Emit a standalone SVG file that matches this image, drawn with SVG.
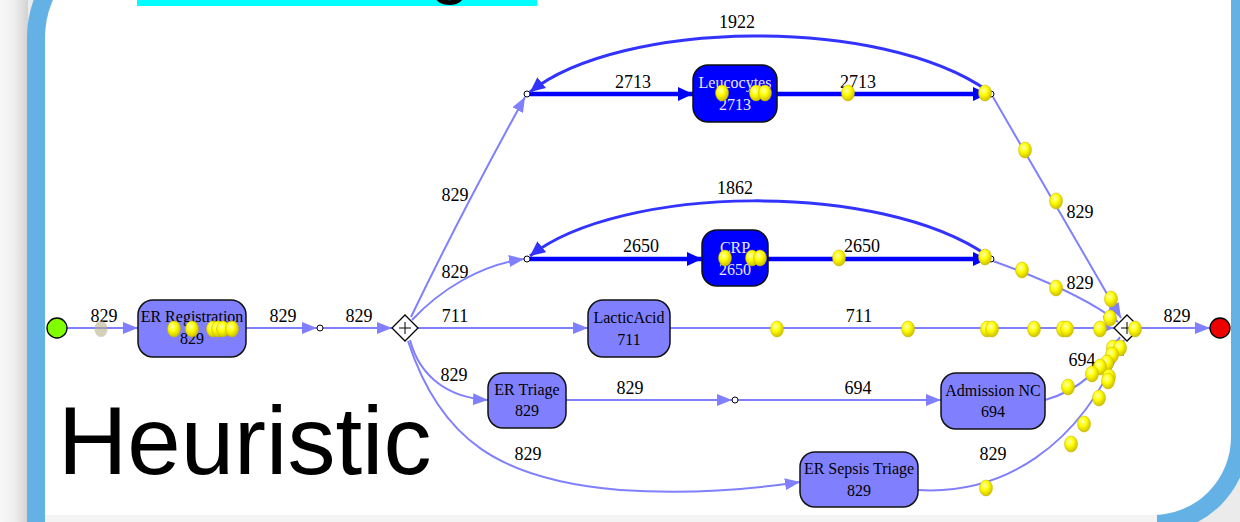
<svg xmlns="http://www.w3.org/2000/svg" width="1240" height="522" viewBox="0 0 1240 522">
<defs>
<linearGradient id="lg" x1="0" y1="0" x2="1" y2="0">
<stop offset="0" stop-color="#f8f8f8"/><stop offset="0.5" stop-color="#efefef"/><stop offset="1" stop-color="#d2d2d2"/>
</linearGradient>
<radialGradient id="tg" cx="0.4" cy="0.35" r="0.65">
<stop offset="0" stop-color="#ffffc0"/><stop offset="0.45" stop-color="#ffff00"/><stop offset="1" stop-color="#cfc000"/>
</radialGradient>
<marker id="al" markerUnits="userSpaceOnUse" markerWidth="16" markerHeight="12" refX="15" refY="6" orient="auto">
<path d="M0,0 L15,6 L0,12 Z" fill="#8080ff"/>
</marker>
<marker id="ab" markerUnits="userSpaceOnUse" markerWidth="16" markerHeight="14" refX="15" refY="7" orient="auto">
<path d="M0,0 L15,7 L0,14 Z" fill="#0000ff"/>
</marker>
<marker id="am" markerUnits="userSpaceOnUse" markerWidth="16" markerHeight="14" refX="15" refY="7" orient="auto">
<path d="M0,0 L15,7 L0,14 Z" fill="#3333ff"/>
</marker>
</defs>
<style>
.act{fill:#8080ff;stroke:#111;stroke-width:1.5}
.actb{fill:#0000ff;stroke:#111;stroke-width:1.5}
.nt{font-family:"Liberation Serif","Times New Roman",serif;font-size:16px;text-anchor:middle;fill:#000}
.ntw{font-family:"Liberation Serif","Times New Roman",serif;font-size:16px;text-anchor:middle;fill:#e8e8ff}
.lb{font-family:"Liberation Serif","Times New Roman",serif;font-size:18px;text-anchor:middle;fill:#000}
.e{fill:none;stroke:#8080ff;stroke-width:2;marker-end:url(#al)}
.eb{fill:none;stroke:#0000ff;stroke-width:4.5;marker-end:url(#ab)}
.el{fill:none;stroke:#3333ff;stroke-width:3;marker-end:url(#am)}
.sc{fill:#fff;stroke:#000;stroke-width:1}
.gw{fill:#fff;stroke:#000;stroke-width:1.3}
.tk{fill:url(#tg);stroke:#c8b400;stroke-width:0.5}
</style>
<rect x="0" y="0" width="1240" height="522" fill="#ebebeb"/>
<rect x="0" y="0" width="28" height="522" fill="url(#lg)"/>
<path d="M36 560 V38 A104 104 0 0 1 140 -66 H1240 V437 A87 87 0 0 1 1153 524 H36 Z" fill="#ffffff"/>
<path d="M36 560 V38 A104 104 0 0 1 140 -66 H1240 V437 A87 87 0 0 1 1153 524 H36 Z" fill="none" stroke="#63b1e5" stroke-width="18"/>
<rect x="45" y="515" width="1112" height="7" fill="#f3f3f3"/>
<rect x="137" y="0" width="400" height="6" fill="#00ffff"/>
<text x="430" y="-10" font-family="Liberation Sans, Arial, sans-serif" font-size="72" fill="#000">g</text>
<text x="58" y="474" font-family="Liberation Sans, Arial, sans-serif" font-size="96" fill="#000">Heuristic</text>

<g id="connectors">
<path class="e" d="M67 328 H138"/>
<path class="e" d="M246 328 H317"/>
<path class="e" d="M323 328 H392"/>
<path class="e" d="M411 317 Q460 215 525 97"/>
<path class="e" d="M412 320 C440 290 480 265 524 259"/>
<path class="e" d="M418 328 H588"/>
<path class="e" d="M410 340 C420 378 450 398 488 400"/>
<path class="e" d="M408 341 C440 440 500 480 620 490 C700 495 760 488 800 482"/>
<path class="eb" d="M530 94 H693"/>
<path class="eb" d="M777 94 H988"/>
<path class="el" d="M988 91 C880 15 620 20 530 92"/>
<path class="eb" d="M530 259 H702"/>
<path class="eb" d="M768 259 H988"/>
<path class="el" d="M988 256 C880 180 620 185 530 256"/>
<path class="e" d="M993 97 L1121 318"/>
<path class="e" d="M993 261 C1040 278 1090 300 1118 322"/>
<path class="e" d="M670 328 H1114"/>
<path class="e" d="M566 400 H732"/>
<path class="e" d="M738 400 H941"/>
<path class="e" d="M1045 400 C1080 390 1100 370 1120 337"/>
<path class="e" d="M918 490 C1000 495 1080 450 1124 340"/>
<path class="e" d="M1140 328 H1210"/>
<text class="lb" x="104" y="322">829</text>
<text class="lb" x="283" y="322">829</text>
<text class="lb" x="359" y="322">829</text>
<text class="lb" x="455" y="322">711</text>
<text class="lb" x="859" y="322">711</text>
<text class="lb" x="1177" y="322">829</text>
<text class="lb" x="455" y="201">829</text>
<text class="lb" x="455" y="278">829</text>
<text class="lb" x="454" y="381">829</text>
<text class="lb" x="528" y="460">829</text>
<text class="lb" x="633" y="88">2713</text>
<text class="lb" x="858" y="88">2713</text>
<text class="lb" x="737" y="28">1922</text>
<text class="lb" x="641" y="252">2650</text>
<text class="lb" x="862" y="252">2650</text>
<text class="lb" x="735" y="194">1862</text>
<text class="lb" x="1080" y="218">829</text>
<text class="lb" x="1080" y="289">829</text>
<text class="lb" x="630" y="394">829</text>
<text class="lb" x="858" y="394">694</text>
<text class="lb" x="1082" y="366">694</text>
<text class="lb" x="993" y="460">829</text>
</g>

<g id="start"><circle cx="57" cy="328" r="10" fill="#80ff00" stroke="#000" stroke-width="1.3"/></g>
<g id="end"><circle cx="1220" cy="328" r="10" fill="#ee0000" stroke="#000" stroke-width="1.3"/></g>
<g id="split"><path class="gw" d="M405 315 L418 328 L405 341 L392 328 Z"/><path d="M399 328 H411 M405 322 V334" stroke="#000" stroke-width="1"/></g>
<g id="join"><path class="gw" d="M1127 315 L1140 328 L1127 341 L1114 328 Z"/><path d="M1121 328 H1133 M1127 322 V334" stroke="#000" stroke-width="1"/></g>
<g id="c1"><circle class="sc" cx="320" cy="328" r="3"/></g>
<g id="c2"><circle class="sc" cx="527" cy="94" r="3"/></g>
<g id="c3"><circle class="sc" cx="991" cy="94" r="3"/></g>
<g id="c4"><circle class="sc" cx="527" cy="259" r="3"/></g>
<g id="c5"><circle class="sc" cx="991" cy="259" r="3"/></g>
<g id="c6"><circle class="sc" cx="735" cy="400" r="3"/></g>

<g id="er-registration"><rect class="act" x="138" y="300" width="108" height="57" rx="15"/><text class="nt" x="192" y="322">ER Registration</text><text class="nt" x="192" y="344">829</text></g>
<g id="leucocytes"><rect class="actb" x="693" y="65" width="84" height="57" rx="15"/><text class="ntw" x="735" y="88">Leucocytes</text><text class="ntw" x="735" y="110">2713</text></g>
<g id="crp"><rect class="actb" x="702" y="230" width="66" height="56" rx="15"/><text class="ntw" x="735" y="253">CRP</text><text class="ntw" x="735" y="275">2650</text></g>
<g id="lacticacid"><rect class="act" x="588" y="300" width="82" height="57" rx="15"/><text class="nt" x="629" y="323">LacticAcid</text><text class="nt" x="629" y="345">711</text></g>
<g id="er-triage"><rect class="act" x="488" y="373" width="78" height="55" rx="15"/><text class="nt" x="527" y="395">ER Triage</text><text class="nt" x="527" y="416">829</text></g>
<g id="admission-nc"><rect class="act" x="941" y="373" width="104" height="56" rx="15"/><text class="nt" x="993" y="396">Admission NC</text><text class="nt" x="993" y="417">694</text></g>
<g id="er-sepsis-triage"><rect class="act" x="800" y="452" width="118" height="55" rx="15"/><text class="nt" x="859" y="474">ER Sepsis Triage</text><text class="nt" x="859" y="496">829</text></g>

<g id="tokens">
<ellipse cx="101" cy="329" rx="6.5" ry="8" fill="#b8b08a" opacity="0.6"/>
<ellipse class="tk" cx="174" cy="329" rx="6.5" ry="8"/>
<ellipse class="tk" cx="192" cy="329" rx="6.5" ry="8"/>
<ellipse class="tk" cx="213" cy="329" rx="6.5" ry="8"/>
<ellipse class="tk" cx="218" cy="329" rx="6.5" ry="8"/>
<ellipse class="tk" cx="223" cy="329" rx="6.5" ry="8"/>
<ellipse class="tk" cx="232" cy="329" rx="6.5" ry="8"/>
<ellipse class="tk" cx="722" cy="93" rx="6.5" ry="8"/>
<ellipse class="tk" cx="756" cy="93" rx="6.5" ry="8"/>
<ellipse class="tk" cx="765" cy="93" rx="6.5" ry="8"/>
<ellipse class="tk" cx="848" cy="93" rx="6.5" ry="8"/>
<ellipse class="tk" cx="985" cy="93" rx="6.5" ry="8"/>
<ellipse class="tk" cx="725" cy="258" rx="6.5" ry="8"/>
<ellipse class="tk" cx="752" cy="258" rx="6.5" ry="8"/>
<ellipse class="tk" cx="760" cy="258" rx="6.5" ry="8"/>
<ellipse class="tk" cx="839" cy="258" rx="6.5" ry="8"/>
<ellipse class="tk" cx="985" cy="257" rx="6.5" ry="8"/>
<ellipse class="tk" cx="1022" cy="270" rx="6.5" ry="8"/>
<ellipse class="tk" cx="1056" cy="288" rx="6.5" ry="8"/>
<ellipse class="tk" cx="1025" cy="150" rx="6.5" ry="8"/>
<ellipse class="tk" cx="1056" cy="201" rx="6.5" ry="8"/>
<ellipse class="tk" cx="1111" cy="299" rx="6.5" ry="8"/>
<ellipse class="tk" cx="1110" cy="318" rx="6.5" ry="8"/>
<ellipse class="tk" cx="777" cy="329" rx="6.5" ry="8"/>
<ellipse class="tk" cx="908" cy="329" rx="6.5" ry="8"/>
<ellipse class="tk" cx="987" cy="329" rx="6.5" ry="8"/>
<ellipse class="tk" cx="992" cy="329" rx="6.5" ry="8"/>
<ellipse class="tk" cx="1034" cy="329" rx="6.5" ry="8"/>
<ellipse class="tk" cx="1063" cy="329" rx="6.5" ry="8"/>
<ellipse class="tk" cx="1067" cy="329" rx="6.5" ry="8"/>
<ellipse class="tk" cx="1100" cy="329" rx="6.5" ry="8"/>
<ellipse class="tk" cx="1135" cy="329" rx="6.5" ry="8"/>
<ellipse class="tk" cx="1113" cy="348" rx="6.5" ry="8"/>
<ellipse class="tk" cx="1120" cy="348" rx="6.5" ry="8"/>
<ellipse class="tk" cx="1112" cy="355" rx="6.5" ry="8"/>
<ellipse class="tk" cx="1107" cy="363" rx="6.5" ry="8"/>
<ellipse class="tk" cx="1100" cy="367" rx="6.5" ry="8"/>
<ellipse class="tk" cx="1092" cy="374" rx="6.5" ry="8"/>
<ellipse class="tk" cx="1109" cy="377" rx="6.5" ry="8"/>
<ellipse class="tk" cx="1108" cy="381" rx="6.5" ry="8"/>
<ellipse class="tk" cx="1068" cy="387" rx="6.5" ry="8"/>
<ellipse class="tk" cx="1099" cy="398" rx="6.5" ry="8"/>
<ellipse class="tk" cx="1084" cy="424" rx="6.5" ry="8"/>
<ellipse class="tk" cx="1071" cy="444" rx="6.5" ry="8"/>
<ellipse class="tk" cx="986" cy="488" rx="6.5" ry="8"/>
</g>
</svg>
